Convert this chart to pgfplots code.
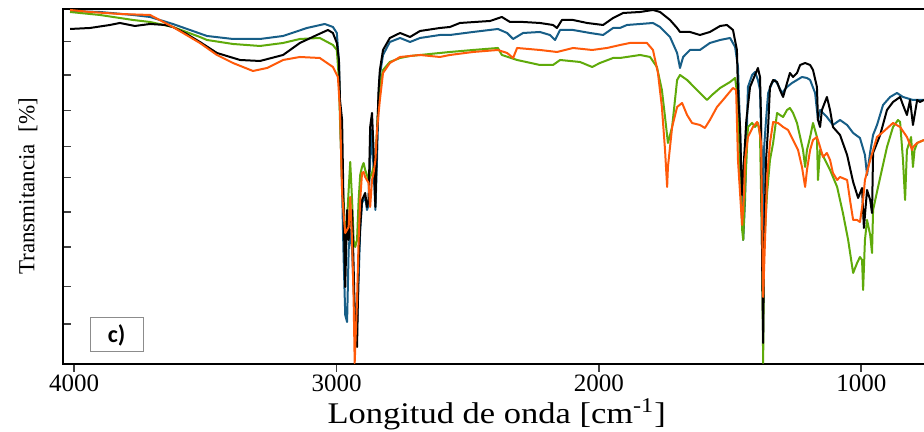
\documentclass[border=0pt]{standalone}
\usepackage{pgfplots}
\pgfplotsset{compat=1.18}
\usepackage{fontspec}
\setmainfont{Liberation Serif}
\newfontfamily\carlito{Carlito}
\definecolor{cblue}{RGB}{23,94,135}
\definecolor{cgreen}{RGB}{95,170,10}
\definecolor{corange}{RGB}{255,90,10}
\begin{document}
\begin{tikzpicture}
\useasboundingbox (-31.75pt,-34pt) rectangle (430.25pt,182pt);
\begin{axis}[
 at={(0pt,0pt)}, anchor=south west, scale only axis,
 width=433.25pt, height=177.5pt,
 x dir=reverse, xmin=738, xmax=4041, ymin=0, ymax=355,
 xtick={1000,2000,3000,4000}, xtick pos=left, ytick pos=left,
 xtick align=outside, ytick align=inside,
 major tick length=4pt,
 ytick={39.7,77.3,116.7,151.7,186.3,217.3,253.3,289,322.3}, yticklabels={},
 axis line style={line width=1pt},
 tick style={black!75, line width=0.8pt},
 xticklabel style={font=\fontsize{12.5}{12.5}\selectfont, inner sep=1pt},
 /pgf/number format/assume math mode=true,
 /pgf/number format/1000 sep={},
 xlabel={\scalebox{1.15}[1]{Longitud de onda [cm\textsuperscript{-1}]}},
 xlabel style={font=\fontsize{15}{15}\selectfont, inner sep=0pt, at={(axis description cs:0.5,-0.142)}, anchor=center},
 ylabel={Transmitancia\ \ [\%]},
 ylabel style={font=\fontsize{11.5}{11.5}\selectfont, at={(axis description cs:-0.041,0.5)}, anchor=center},
 every axis plot/.append style={line width=1pt, line join=round},
]
\addplot[cblue] table[x=x,y=y] {
x y
4016 353
3902 352
3776 349
3711 347
3624 340
3494 328
3395 325
3292 325
3204 328
3113 336
3045 340
3014 337
2999 331
2991 301
2987 254
2979 174
2973 104
2967 49
2960 42
2954 114
2948 134
2941 114
2935 74
2929 44
2922 34
2916 84
2910 134
2903 161
2891 167
2884 154
2878 159
2872 204
2865 234
2859 194
2852 154
2846 204
2840 264
2835 289
2823 309
2797 322
2758 326
2720 322
2682 326
2606 329
2568 329
2480 332
2385 335
2350 331
2327 325
2289 331
2225 332
2187 329
2167 324
2148 334
2099 334
2034 331
1984 329
1946 336
1920 336
1893 339
1843 340
1794 341
1767 337
1729 327
1702 311
1691 296
1679 307
1653 314
1615 314
1577 321
1538 324
1500 326
1481 317
1470 297
1462 234
1454 164
1450 124
1443 164
1432 277
1416 289
1405 292
1394 284
1386 274
1382 234
1376 94
1371 214
1363 244
1355 271
1340 281
1329 284
1317 279
1302 271
1283 277
1264 281
1245 284
1226 287
1207 286
1195 284
1176 271
1165 244
1157 254
1131 247
1108 239
1081 244
1054 239
1031 231
1005 226
986 209
978 189
966 212
955 229
940 239
917 259
890 267
864 271
841 267
803 264
776 264
761 264
};
\addplot[cgreen] table[x=x,y=y] {
x y
4016 352
3902 349
3776 344
3711 342
3624 337
3521 327
3494 324
3395 320
3292 318
3204 321
3140 325
3064 326
3014 319
2999 314
2991 284
2987 244
2979 184
2973 164
2967 124
2960 144
2954 174
2948 202
2941 164
2935 124
2929 117
2922 124
2916 164
2910 189
2903 197
2897 201
2891 194
2878 184
2865 191
2852 204
2846 234
2840 264
2835 279
2823 294
2797 302
2758 306
2720 308
2682 309
2606 311
2568 312
2480 314
2385 316
2370 309
2312 304
2225 299
2175 299
2148 304
2072 302
2026 297
1996 301
1946 306
1920 306
1843 309
1805 307
1779 297
1760 274
1748 247
1737 221
1721 237
1702 284
1691 289
1664 284
1626 274
1588 264
1569 269
1538 276
1500 282
1481 286
1470 264
1462 194
1454 134
1450 124
1443 174
1432 237
1416 241
1405 237
1394 241
1386 229
1378 114
1374 1
1371 114
1359 171
1348 204
1336 221
1321 251
1310 249
1298 247
1283 254
1272 256
1260 251
1245 241
1233 227
1222 214
1214 197
1207 214
1195 227
1184 241
1169 227
1165 184
1157 214
1119 194
1092 177
1070 151
1050 124
1031 91
1016 101
1005 107
997 104
993 74
986 124
978 144
966 129
959 111
955 154
936 177
902 217
879 237
860 244
852 242
841 204
833 164
826 214
810 227
803 197
797 214
787 221
761 224
};
\addplot[black] table[x=x,y=y] {
x y
4016 335
3940 336
3864 339
3826 341
3769 338
3711 340
3654 339
3624 337
3578 331
3521 322
3456 311
3368 304
3292 303
3204 309
3140 321
3075 329
3033 334
3014 331
2999 321
2991 304
2987 264
2979 244
2973 151
2967 77
2960 154
2954 124
2948 149
2941 154
2935 97
2929 31
2922 17
2916 104
2910 137
2903 164
2891 171
2884 157
2878 164
2872 237
2865 251
2859 214
2852 157
2846 224
2840 274
2835 294
2823 314
2797 326
2758 331
2720 327
2682 333
2606 336
2568 337
2530 341
2415 343
2370 347
2339 342
2289 342
2225 341
2175 339
2160 336
2141 344
2099 344
2045 341
1984 339
1946 346
1908 351
1843 352
1794 354
1767 352
1729 344
1702 336
1691 332
1653 332
1615 329
1577 332
1538 338
1512 339
1489 334
1474 314
1470 271
1462 237
1458 197
1454 169
1447 204
1438 244
1424 277
1413 284
1397 294
1394 296
1386 287
1382 244
1378 104
1374 21
1371 114
1363 204
1355 237
1348 277
1336 284
1321 282
1310 274
1298 267
1283 281
1272 291
1260 287
1245 291
1233 299
1214 301
1195 299
1184 294
1169 277
1165 244
1157 237
1150 254
1131 267
1119 254
1108 237
1081 229
1054 209
1031 182
1012 166
997 176
990 136
978 174
966 164
959 151
955 211
928 229
902 254
879 262
852 267
841 259
826 249
814 264
803 239
787 264
776 262
761 264
};
\addplot[corange] table[x=x,y=y] {
x y
4016 354
3940 352
3826 350
3711 349
3624 337
3521 321
3456 309
3395 301
3319 293
3265 296
3204 304
3140 307
3064 306
3014 297
2995 287
2987 254
2979 171
2973 149
2967 131
2954 137
2948 167
2941 124
2935 64
2931 1
2922 64
2916 124
2910 164
2903 191
2897 192
2891 187
2878 181
2872 157
2865 184
2859 191
2852 204
2846 234
2835 264
2823 291
2797 301
2758 307
2720 308
2682 309
2606 307
2568 309
2480 312
2385 314
2350 311
2327 306
2312 316
2225 314
2160 312
2099 316
2026 314
1969 316
1919 319
1882 321
1843 321
1817 321
1794 314
1775 291
1760 257
1748 214
1740 177
1737 197
1721 237
1702 257
1683 261
1664 249
1645 241
1615 239
1596 236
1577 244
1550 257
1527 264
1489 276
1477 274
1470 204
1458 154
1454 139
1447 171
1443 204
1432 227
1413 237
1397 242
1390 237
1382 221
1374 67
1359 187
1348 221
1336 242
1317 241
1298 237
1279 234
1260 224
1241 214
1226 197
1214 177
1207 194
1195 214
1184 224
1169 227
1157 217
1146 207
1131 211
1119 204
1108 191
1092 184
1081 187
1054 184
1043 164
1031 144
1016 144
1005 142
993 164
986 184
966 204
940 227
917 232
879 241
852 237
826 227
806 214
803 217
787 221
761 224
};
\node[draw=black!45, fill=white, line width=0.5pt, minimum width=26.5pt, minimum height=17pt, inner sep=0pt, font=\carlito\bfseries\fontsize{12}{12}\selectfont] at (rel axis cs:0.0612,0.0817) {c)};
\end{axis}
\end{tikzpicture}
\end{document}
